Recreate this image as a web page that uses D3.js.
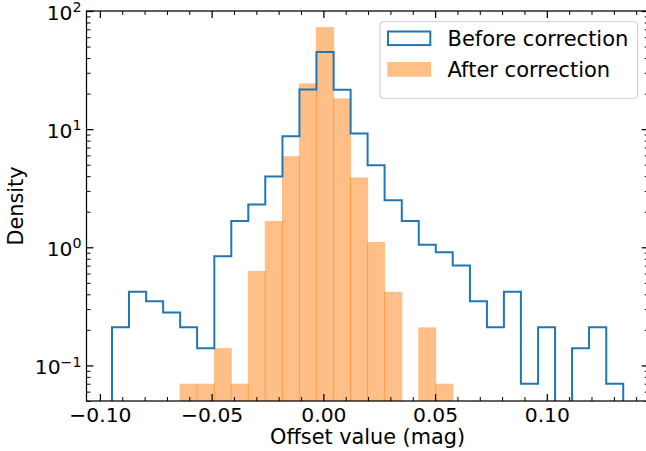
<!DOCTYPE html>
<html><head><meta charset="utf-8">
<script src="https://cdn.jsdelivr.net/npm/d3@7"></script>
<style>
body{margin:0;background:#fff}
svg{display:block}
text{font-family:"DejaVu Sans",sans-serif;fill:#000}
</style>
</head><body><div id="chart"></div>
<script>
// ---- data ----
const binEdges = [-0.0946,-0.0870,-0.0793,-0.0717,-0.0641,-0.0565,-0.0488,-0.0412,-0.0336,-0.0260,
  -0.0183,-0.0107,-0.0031,0.0046,0.0122,0.0198,0.0274,0.0351,0.0427,0.0503,
  0.0579,0.0656,0.0732,0.0808,0.0884,0.0961,0.1037,0.1113,0.1189,0.1266,0.1342];
const beforeDensity = [0.21,0.42,0.35,0.28,0.21,0.14,0.84,1.67,2.30,3.98,
  8.7,21.7,45.0,21.5,9.2,4.94,2.50,1.67,1.05,0.91,
  0.70,0.35,0.21,0.42,0.07,0.21,0,0.14,0.21,0.07];
const afterDensity = [0,0,0,0,0.07,0.07,0.14,0.07,0.63,1.67,
  5.9,24.4,73.0,18.2,3.9,1.11,0.42,0,0.21,0.07,
  0,0,0,0,0,0,0,0,0,0];
const seriesNames = ["Before correction","After correction"];
const xTicks = [-0.10,-0.05,0.00,0.05,0.10];
const xTickLabels = ["\u22120.10","\u22120.05","0.00","0.05","0.10"];
const xMinorTicks = [-0.09,-0.08,-0.07,-0.06,-0.04,-0.03,-0.02,-0.01,0.01,0.02,0.03,0.04,0.06,0.07,0.08,0.09,0.11,0.12,0.13,0.14];
const yMajorTicks = [0.1,1,10,100];
const yTickExponents = ["\u22121","0","1","2"];
const yMinorTicks = [0.05,0.06,0.07,0.08,0.09,0.2,0.3,0.4,0.5,0.6,0.7,0.8,0.9,2,3,4,5,6,7,8,9,20,30,40,50,60,70,80,90];
const xLabel = "Offset value (mag)";
const yLabel = "Density";

// ---- layout ----
const W = 646, H = 451;
const P = {left: 86.5, right: 648.7, top: 11, bottom: 401};
const FS = 20.3, FL = 20.8, FLEG = 21;
const blue = "#1f77b4", orange = "#ff7f0e";

const svg = d3.select("#chart").append("svg").attr("width", W).attr("height", H);
const x = d3.scaleLinear().domain([-0.1060, 0.1456]).range([P.left, P.right]);
const y = d3.scaleLog().domain([0.05, 100]).range([P.bottom, P.top]);

svg.append("defs").append("clipPath").attr("id","clip")
  .append("rect").attr("x",P.left).attr("y",P.top)
  .attr("width",P.right-P.left).attr("height",P.bottom-P.top);

const plot = svg.append("g").attr("clip-path","url(#clip)");

// After correction: filled bars
const bins = afterDensity.map((v,i)=>({v, x0: binEdges[i], x1: binEdges[i+1]})).filter(d=>d.v>0);
plot.selectAll("rect.after").data(bins).join("rect")
  .attr("class","after")
  .attr("x", d=>x(d.x0)-0.5)
  .attr("width", d=>x(d.x1)-x(d.x0)+1)
  .attr("y", d=>y(d.v))
  .attr("height", d=>P.bottom - y(d.v) + 2)
  .attr("fill", orange).attr("fill-opacity", 0.5);

// Before correction: step outline
const pts = [[binEdges[0], 0]];
beforeDensity.forEach((v,i)=>{ pts.push([binEdges[i], v]); pts.push([binEdges[i+1], v]); });
pts.push([binEdges[binEdges.length-1], 0]);
const line = d3.line().x(d=>x(d[0])).y(d=> d[1]>0 ? y(d[1]) : P.bottom+5);
plot.append("path").attr("d", line(pts))
  .attr("fill","none").attr("stroke",blue).attr("stroke-width",2)
  .attr("stroke-linejoin","miter");

// ---- axes (inward ticks on all sides) ----
function styleAxis(g, w){ g.select(".domain").remove(); g.selectAll(".tick line").attr("stroke","#000").attr("stroke-width",w); }

svg.append("g").attr("transform",`translate(0,${P.bottom})`)
  .call(d3.axisBottom(x).tickValues(xMinorTicks).tickSize(-4).tickFormat(""))
  .call(g=>styleAxis(g,1));
const xb = svg.append("g").attr("transform",`translate(0,${P.bottom})`)
  .call(d3.axisBottom(x).tickValues(xTicks).tickSize(-7).tickPadding(6.5).tickFormat((d,i)=>xTickLabels[i]))
  .call(g=>styleAxis(g,1.25));
xb.selectAll(".tick text").attr("font-size",FS).attr("font-family","DejaVu Sans").attr("fill","#000");

svg.append("g").attr("transform",`translate(0,${P.top})`)
  .call(d3.axisTop(x).tickValues(xMinorTicks).tickSize(-4).tickFormat(""))
  .call(g=>styleAxis(g,1));
svg.append("g").attr("transform",`translate(0,${P.top})`)
  .call(d3.axisTop(x).tickValues(xTicks).tickSize(-7).tickFormat(""))
  .call(g=>styleAxis(g,1.25));

svg.append("g").attr("transform",`translate(${P.left},0)`)
  .call(d3.axisLeft(y).tickValues(yMinorTicks).tickSize(-4).tickFormat(""))
  .call(g=>styleAxis(g,1));
const yl = svg.append("g").attr("transform",`translate(${P.left},0)`)
  .call(d3.axisLeft(y).tickValues(yMajorTicks).tickSize(-7).tickPadding(5).tickFormat(""))
  .call(g=>styleAxis(g,1.25));
yl.selectAll(".tick text").each(function(d,i){
  const t = d3.select(this).attr("font-size",FS).attr("font-family","DejaVu Sans")
    .attr("fill","#000").attr("dy","0.4em").attr("text-anchor","end");
  t.text(null);
  t.append("tspan").text("10");
  t.append("tspan").attr("font-size",FS*0.7).attr("dy",-7.5).text(yTickExponents[i]);
});

svg.append("g").attr("transform",`translate(${P.right},0)`)
  .call(d3.axisRight(y).tickValues(yMinorTicks).tickSize(-4).tickFormat(""))
  .call(g=>styleAxis(g,1));
svg.append("g").attr("transform",`translate(${P.right},0)`)
  .call(d3.axisRight(y).tickValues(yMajorTicks).tickSize(-7).tickFormat(""))
  .call(g=>styleAxis(g,1.25));

// frame
svg.append("rect").attr("x",P.left).attr("y",P.top)
  .attr("width",P.right-P.left).attr("height",P.bottom-P.top)
  .attr("fill","none").attr("stroke","#000").attr("stroke-width",1.25);

// axis labels
svg.append("text").attr("x",(P.left+P.right)/2).attr("y",444)
  .attr("text-anchor","middle").attr("font-size",FL).text(xLabel);
svg.append("text").attr("transform",`translate(23,${(P.top+P.bottom)/2}) rotate(-90)`)
  .attr("text-anchor","middle").attr("font-size",FL).text(yLabel);

// legend
const lg = svg.append("g");
lg.append("rect").attr("x",380).attr("y",21.7).attr("width",257.7).attr("height",76.6)
  .attr("rx",3.5).attr("fill","#fff").attr("fill-opacity",0.8)
  .attr("stroke","#cccccc").attr("stroke-width",1);
lg.append("rect").attr("x",388).attr("y",31.5).attr("width",42.3).attr("height",13.6)
  .attr("fill","none").attr("stroke",blue).attr("stroke-width",2);
lg.append("rect").attr("x",387.3).attr("y",62).attr("width",43.7).attr("height",14.7)
  .attr("fill",orange).attr("fill-opacity",0.5);
lg.append("text").attr("x",447.5).attr("y",46).attr("font-size",FLEG).text(seriesNames[0]);
lg.append("text").attr("x",447.5).attr("y",77).attr("font-size",FLEG).text(seriesNames[1]);
</script>
</body></html>
